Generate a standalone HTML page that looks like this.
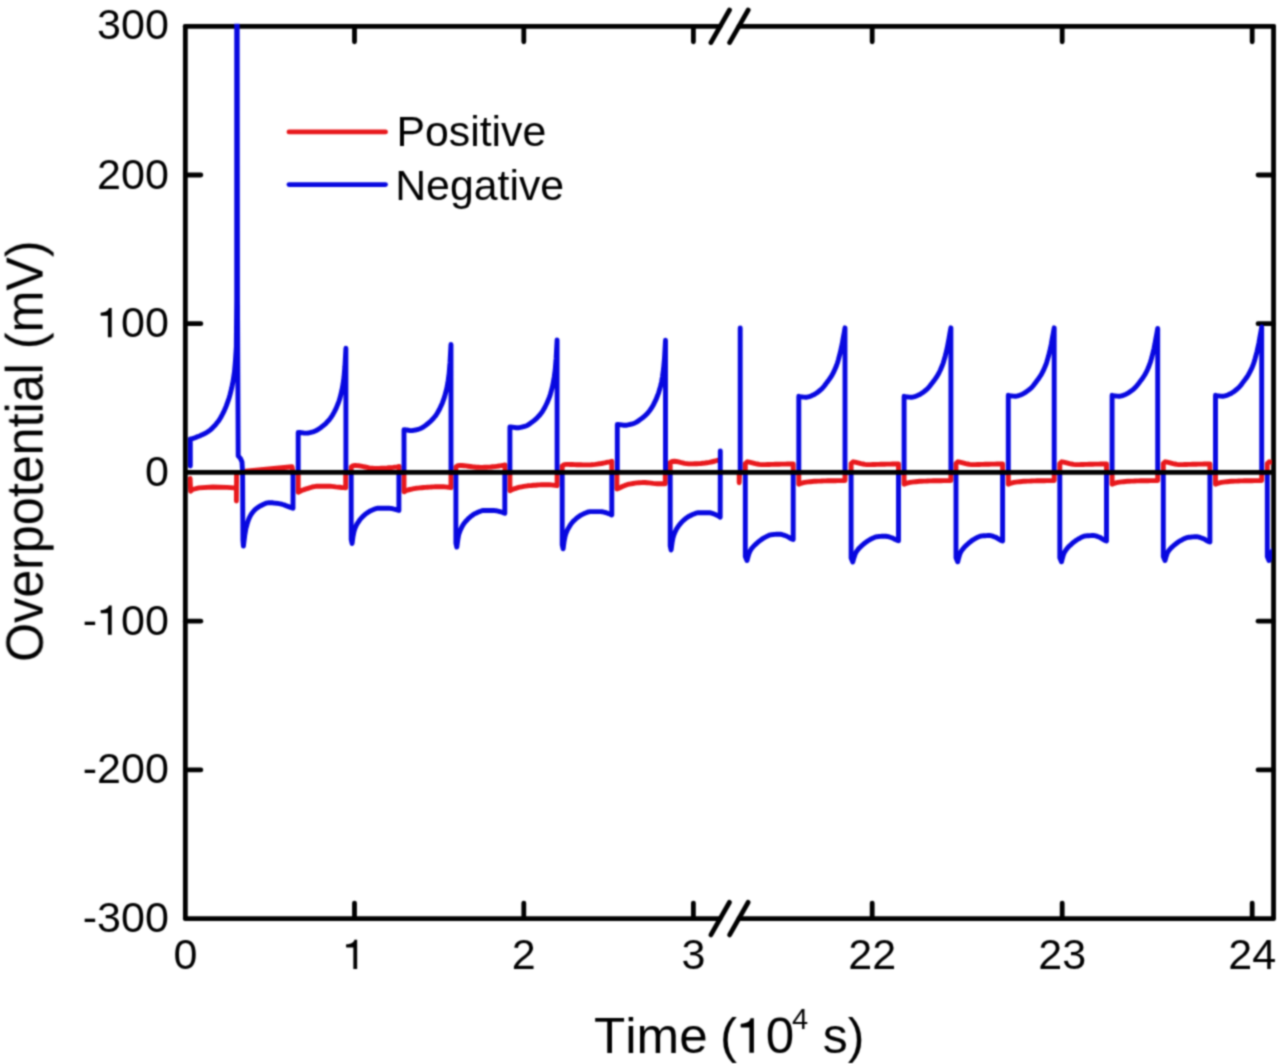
<!DOCTYPE html>
<html><head><meta charset="utf-8"><style>
html,body{margin:0;padding:0;background:#fff;width:1280px;height:1064px;overflow:hidden}
svg{display:block;font-family:"Liberation Sans",sans-serif}
text{stroke:#000;stroke-width:0px}
path.one{stroke:#000;stroke-width:0px;vector-effect:non-scaling-stroke}
</style></head><body>
<svg width="1280" height="1064" viewBox="0 0 1280 1064">
<defs><filter id="bl" filterUnits="userSpaceOnUse" x="0" y="0" width="1280" height="1064" color-interpolation-filters="sRGB"><feConvolveMatrix order="5" kernelMatrix="0.00048 0.00501 0.01095 0.00501 0.00048 0.00501 0.05222 0.11405 0.05222 0.00501 0.01095 0.11405 0.24912 0.11405 0.01095 0.00501 0.05222 0.11405 0.05222 0.00501 0.00048 0.00501 0.01095 0.00501 0.00048" divisor="1" edgeMode="none"/></filter><clipPath id="c"><rect x="187.7" y="23.8" width="1084.3" height="892.5"/></clipPath></defs>
<g filter="url(#bl)">
<g stroke="#000" stroke-width="4.8" stroke-linecap="round" fill="none"><line x1="185.35" y1="26.3" x2="185.35" y2="918.6"/><line x1="1273.55" y1="26.3" x2="1273.55" y2="918.6"/><line x1="185.35" y1="26.3" x2="720.2" y2="26.3"/><line x1="738.9" y1="26.3" x2="1273.55" y2="26.3"/><line x1="710.9" y1="42.6" x2="729.5" y2="10.0" stroke-linecap="round"/><line x1="729.6" y1="42.6" x2="748.2" y2="10.0" stroke-linecap="round"/><line x1="185.35" y1="918.6" x2="720.2" y2="918.6"/><line x1="738.9" y1="918.6" x2="1273.55" y2="918.6"/><line x1="710.9" y1="934.9" x2="729.5" y2="902.3000000000001" stroke-linecap="round"/><line x1="729.6" y1="934.9" x2="748.2" y2="902.3000000000001" stroke-linecap="round"/><line x1="185.35" y1="175.0" x2="200.85" y2="175.0"/><line x1="1258.05" y1="175.0" x2="1273.55" y2="175.0"/><line x1="185.35" y1="323.7" x2="200.85" y2="323.7"/><line x1="1258.05" y1="323.7" x2="1273.55" y2="323.7"/><line x1="185.35" y1="621.2" x2="200.85" y2="621.2"/><line x1="1258.05" y1="621.2" x2="1273.55" y2="621.2"/><line x1="185.35" y1="769.9" x2="200.85" y2="769.9"/><line x1="1258.05" y1="769.9" x2="1273.55" y2="769.9"/><line x1="354.5" y1="26.3" x2="354.5" y2="41.8"/><line x1="354.5" y1="918.6" x2="354.5" y2="903.1"/><line x1="523.8" y1="26.3" x2="523.8" y2="41.8"/><line x1="523.8" y1="918.6" x2="523.8" y2="903.1"/><line x1="693.4" y1="26.3" x2="693.4" y2="41.8"/><line x1="693.4" y1="918.6" x2="693.4" y2="903.1"/><line x1="872.2" y1="26.3" x2="872.2" y2="41.8"/><line x1="872.2" y1="918.6" x2="872.2" y2="903.1"/><line x1="1062.2" y1="26.3" x2="1062.2" y2="41.8"/><line x1="1062.2" y1="918.6" x2="1062.2" y2="903.1"/><line x1="1252.2" y1="26.3" x2="1252.2" y2="41.8"/><line x1="1252.2" y1="918.6" x2="1252.2" y2="903.1"/></g>
<g clip-path="url(#c)" fill="none" stroke-width="4.9" stroke-linejoin="round" stroke-linecap="round">
<polyline stroke="#e8181c" stroke-width="4.9" points="190.1,478.5 190.6,491.2 192.5,489.5 198.8,487.9 212.9,487.0 227.0,487.4 234.0,487.9 236.4,487.9 236.4,501.0 236.6,472.4 242.6,472.4 245.5,471.2 261.0,469.8 276.5,468.3 292.0,466.8 293.0,472.4 298.2,472.4 298.2,492.2 300.2,491.2 302.2,490.3 304.1,489.6 306.1,488.9 308.1,488.3 310.1,487.7 312.1,487.0 314.0,486.6 316.0,486.3 318.0,486.2 320.0,486.2 321.9,486.2 323.9,486.2 325.9,486.2 327.9,486.2 329.9,486.2 331.8,486.4 333.8,486.6 335.8,486.9 337.8,487.1 339.8,487.3 341.7,487.5 343.7,487.6 345.7,487.8 345.7,472.4 351.2,472.4 351.2,467.0 353.2,465.6 355.2,465.4 357.2,465.6 359.2,465.8 361.2,466.2 363.2,466.6 365.2,467.0 367.2,467.4 369.2,467.8 371.2,468.1 373.2,468.3 375.2,468.4 377.2,468.4 379.2,468.4 381.2,468.3 383.2,468.2 385.2,468.1 387.2,468.0 389.2,467.8 391.2,467.6 393.2,467.4 395.2,467.1 397.2,466.8 399.2,466.4 399.2,472.4 404.0,472.4 404.0,491.8 406.0,490.6 407.9,490.0 409.9,489.5 411.8,489.1 413.8,488.7 415.8,488.3 417.7,488.1 419.7,487.9 421.6,487.7 423.6,487.5 425.5,487.4 427.5,487.2 429.5,487.1 431.4,487.0 433.4,486.9 435.3,486.8 437.3,486.8 439.2,486.7 441.2,486.7 443.2,486.7 445.1,486.9 447.1,487.1 449.0,487.4 451.0,487.7 451.0,472.4 455.9,472.4 455.9,467.0 457.9,465.6 460.0,465.4 462.0,465.5 464.1,465.7 466.1,465.9 468.2,466.2 470.2,466.5 472.3,466.8 474.3,467.0 476.4,467.2 478.4,467.3 480.4,467.4 482.5,467.4 484.5,467.3 486.6,467.2 488.6,467.1 490.7,467.0 492.7,466.8 494.8,466.6 496.8,466.3 498.9,466.0 500.9,465.7 503.0,465.3 505.0,464.9 505.0,472.4 509.9,472.4 509.9,490.8 511.9,489.7 513.8,488.9 515.8,488.3 517.8,487.7 519.7,487.2 521.7,486.8 523.7,486.4 525.6,486.1 527.6,485.8 529.6,485.6 531.5,485.5 533.5,485.3 535.5,485.2 537.4,485.0 539.4,484.9 541.4,484.8 543.3,484.8 545.3,484.7 547.3,484.7 549.2,484.7 551.2,484.9 553.2,485.1 555.1,485.4 557.1,485.7 557.1,472.4 562.2,472.4 562.2,466.0 564.3,464.6 566.3,464.4 568.4,464.4 570.5,464.5 572.5,464.5 574.6,464.6 576.7,464.7 578.7,464.7 580.8,464.8 582.9,464.9 584.9,464.9 587.0,464.9 589.1,464.9 591.1,464.8 593.2,464.6 595.3,464.4 597.3,464.1 599.4,463.8 601.5,463.5 603.5,463.1 605.6,462.7 607.7,462.2 609.7,461.8 611.8,461.3 611.8,472.4 616.9,472.4 616.9,489.0 618.9,488.2 620.9,487.3 622.9,486.3 625.0,485.4 627.0,484.7 629.0,484.2 631.0,483.8 633.0,483.5 635.0,483.2 637.1,482.9 639.1,482.7 641.1,482.6 643.1,482.5 645.1,482.5 647.1,482.7 649.2,482.9 651.2,483.1 653.2,483.4 655.2,483.6 657.2,483.7 659.2,483.7 661.3,483.7 663.3,483.7 665.3,483.7 665.3,472.4 670.2,472.4 670.2,462.5 672.2,461.5 674.3,461.3 676.4,461.5 678.4,461.9 680.5,462.4 682.5,462.8 684.6,463.3 686.6,463.6 688.6,463.9 690.7,463.9 692.8,463.9 694.8,463.8 696.9,463.7 698.9,463.6 701.0,463.5 703.0,463.2 705.0,463.0 707.1,462.7 709.1,462.4 711.2,462.0 713.2,461.5 715.3,461.0 717.4,460.4 719.4,459.8"/>
<polyline stroke="#e8181c" stroke-width="4.9" points="739.2,472.4 739.2,482.7 739.6,472.4 745.3,472.4 745.3,472.4 745.3,463.5 747.3,461.8 749.3,462.2 751.3,462.6 753.3,463.1 755.3,463.6 757.3,464.0 759.3,464.4 761.3,464.6 763.3,464.6 765.3,464.6 767.3,464.5 769.2,464.5 771.2,464.4 773.2,464.4 775.2,464.3 777.2,464.2 779.2,464.2 781.2,464.1 783.2,464.1 785.2,464.1 787.2,464.0 789.2,464.0 791.2,463.9 793.2,463.9 793.2,472.4 798.8,472.4 798.8,484.2 800.7,483.5 802.6,482.9 804.6,482.4 806.5,482.1 808.4,481.9 810.3,481.7 812.3,481.5 814.2,481.3 816.1,481.2 818.0,481.1 820.0,481.1 821.9,481.0 823.8,480.9 825.8,480.9 827.7,480.8 829.6,480.8 831.5,480.7 833.5,480.7 835.4,480.7 837.3,480.6 839.2,480.6 841.1,480.6 843.1,480.6 845.0,480.6 845.0,472.4 851.1,472.4 851.1,463.5 853.1,461.8 855.1,462.2 857.0,462.6 859.0,463.1 861.0,463.6 863.0,464.0 864.9,464.4 866.9,464.6 868.9,464.6 870.9,464.6 872.8,464.5 874.8,464.5 876.8,464.4 878.8,464.4 880.7,464.3 882.7,464.2 884.7,464.2 886.6,464.1 888.6,464.1 890.6,464.1 892.6,464.0 894.5,464.0 896.5,463.9 898.5,463.9 898.5,472.4 904.1,472.4 904.1,484.2 906.1,483.5 908.0,482.9 910.0,482.4 911.9,482.1 913.9,481.9 915.8,481.7 917.8,481.5 919.7,481.3 921.6,481.2 923.6,481.1 925.5,481.1 927.5,481.0 929.5,480.9 931.4,480.9 933.4,480.8 935.3,480.8 937.2,480.7 939.2,480.7 941.1,480.7 943.1,480.6 945.0,480.6 947.0,480.6 948.9,480.6 950.9,480.6 950.9,472.4 956.0,472.4 956.0,463.5 957.9,461.8 959.9,462.2 961.8,462.6 963.8,463.1 965.7,463.6 967.6,464.0 969.6,464.4 971.5,464.6 973.5,464.6 975.4,464.6 977.4,464.5 979.3,464.5 981.2,464.4 983.2,464.4 985.1,464.3 987.1,464.2 989.0,464.2 991.0,464.1 992.9,464.1 994.8,464.1 996.8,464.0 998.7,464.0 1000.7,463.9 1002.6,463.9 1002.6,472.4 1008.3,472.4 1008.3,484.2 1010.2,483.5 1012.1,482.9 1014.0,482.4 1015.9,482.1 1017.9,481.9 1019.8,481.7 1021.7,481.5 1023.6,481.3 1025.5,481.2 1027.4,481.1 1029.3,481.1 1031.2,481.0 1033.2,480.9 1035.1,480.9 1037.0,480.8 1038.9,480.8 1040.8,480.7 1042.7,480.7 1044.6,480.7 1046.5,480.6 1048.5,480.6 1050.4,480.6 1052.3,480.6 1054.2,480.6 1054.2,472.4 1059.8,472.4 1059.8,463.5 1061.7,461.8 1063.7,462.2 1065.6,462.6 1067.6,463.1 1069.5,463.6 1071.5,464.0 1073.4,464.4 1075.4,464.6 1077.3,464.6 1079.3,464.6 1081.2,464.5 1083.2,464.5 1085.1,464.4 1087.0,464.4 1089.0,464.3 1090.9,464.2 1092.9,464.2 1094.8,464.1 1096.8,464.1 1098.7,464.1 1100.7,464.0 1102.6,464.0 1104.6,463.9 1106.5,463.9 1106.5,472.4 1112.1,472.4 1112.1,484.2 1114.0,483.5 1115.9,482.9 1117.8,482.4 1119.7,482.1 1121.6,481.9 1123.5,481.7 1125.4,481.5 1127.3,481.3 1129.2,481.2 1131.1,481.1 1133.0,481.1 1134.9,481.0 1136.8,480.9 1138.7,480.9 1140.6,480.8 1142.5,480.8 1144.4,480.7 1146.3,480.7 1148.2,480.7 1150.1,480.6 1152.0,480.6 1153.9,480.6 1155.8,480.6 1157.7,480.6 1157.7,472.4 1163.3,472.4 1163.3,463.5 1165.2,461.8 1167.2,462.2 1169.1,462.6 1171.1,463.1 1173.0,463.6 1175.0,464.0 1176.9,464.4 1178.8,464.6 1180.8,464.6 1182.7,464.6 1184.7,464.5 1186.6,464.5 1188.5,464.4 1190.5,464.4 1192.4,464.3 1194.4,464.2 1196.3,464.2 1198.2,464.1 1200.2,464.1 1202.1,464.1 1204.1,464.0 1206.0,464.0 1208.0,463.9 1209.9,463.9 1209.9,472.4 1215.5,472.4 1215.5,484.2 1217.4,483.5 1219.3,482.9 1221.3,482.4 1223.2,482.1 1225.1,481.9 1227.0,481.7 1229.0,481.5 1230.9,481.3 1232.8,481.2 1234.8,481.1 1236.7,481.1 1238.6,481.0 1240.5,480.9 1242.5,480.9 1244.4,480.8 1246.3,480.8 1248.2,480.7 1250.2,480.7 1252.1,480.7 1254.0,480.6 1255.9,480.6 1257.9,480.6 1259.8,480.6 1261.7,480.6 1261.7,472.4 1267.3,472.4 1267.3,463.5 1269.2,461.8 1271.2,462.2 1273.1,462.6 1275.1,463.1 1277.0,463.6 1279.0,464.0 1280.9,464.4 1282.9,464.6 1284.8,464.6 1286.8,464.6 1288.7,464.5 1290.7,464.5 1292.6,464.4 1294.5,464.4 1296.5,464.3 1298.4,464.2 1300.4,464.2 1302.3,464.1 1304.3,464.1 1306.2,464.1 1308.2,464.0 1310.1,464.0 1312.1,463.9 1314.0,463.9 1314.0,472.4"/>
<polyline stroke="#0808e0" points="190.3,466.0 190.3,439.0 191.3,439.0 192.2,438.7 193.1,438.4 194.1,438.1 195.0,437.7 195.9,437.4 196.8,437.0 197.7,436.6 198.6,436.3 199.6,435.9 200.5,435.5 201.4,435.1 202.3,434.7 203.2,434.3 204.2,433.8 205.1,433.3 206.0,432.8 206.9,432.3 207.8,431.7 208.7,431.1 209.7,430.4 210.6,429.7 211.5,428.9 212.4,428.0 213.3,427.1 214.3,426.1 215.2,425.1 216.1,424.0 217.0,422.8 217.9,421.7 218.9,420.4 219.8,419.0 220.7,417.5 221.6,415.8 222.5,414.1 223.4,412.3 224.4,410.3 225.3,408.3 226.2,406.1 227.1,403.7 228.0,401.1 229.0,398.2 229.9,395.1 230.8,391.6 231.7,387.9 232.6,383.6 233.5,378.3 234.5,371.7 235.4,361.3 236.3,347.0 236.7,300.0 236.7,150.0 236.7,10.0 237.2,10.0 237.5,300.0 238.2,455.9 240.5,458.5 242.0,462.0 242.6,472.4 242.9,540.0 243.4,546.1 244.7,535.6 245.9,528.7 247.2,523.8 248.5,519.8 249.8,516.8 251.0,514.6 252.3,512.8 253.6,511.2 254.8,509.9 256.1,508.7 257.4,507.8 258.7,506.9 259.9,506.2 261.2,505.5 262.5,504.8 263.7,504.2 265.0,503.6 266.3,503.2 267.6,502.9 268.8,502.7 270.1,502.7 271.4,502.8 272.7,502.8 273.9,503.0 275.2,503.1 276.5,503.3 277.7,503.4 279.0,503.6 280.3,503.8 281.6,504.1 282.8,504.5 284.1,504.9 285.4,505.4 286.6,505.9 287.9,506.4 289.2,506.9 290.5,507.4 291.7,507.8 293.0,508.2 293.0,472.4 298.2,472.4 298.2,432.4 299.2,432.4 300.1,432.5 301.1,432.6 302.1,432.8 303.1,432.9 304.0,433.1 305.0,433.1 306.0,433.1 307.0,433.1 307.9,433.0 308.9,432.8 309.9,432.6 310.9,432.4 311.8,432.1 312.8,431.9 313.8,431.6 314.7,431.2 315.7,430.8 316.7,430.3 317.7,429.7 318.6,429.1 319.6,428.4 320.6,427.7 321.6,427.0 322.5,426.2 323.5,425.5 324.5,424.6 325.5,423.8 326.4,422.8 327.4,421.8 328.4,420.8 329.4,419.6 330.3,418.4 331.3,417.0 332.3,415.5 333.2,413.9 334.2,412.1 335.2,410.2 336.2,408.1 337.1,405.9 338.1,403.5 339.1,400.7 340.1,397.5 341.0,393.9 342.0,389.6 343.0,384.3 344.0,377.2 344.9,366.3 345.9,348.3 345.9,472.4 351.2,472.4 351.2,539.5 352.1,543.5 353.0,536.5 354.0,531.6 354.9,528.6 355.9,526.3 356.8,524.4 357.8,522.8 358.8,521.3 359.7,520.0 360.7,518.8 361.6,517.7 362.6,516.7 363.5,515.8 364.5,515.0 365.4,514.2 366.4,513.4 367.4,512.7 368.3,512.1 369.3,511.5 370.2,511.0 371.2,510.6 372.1,510.1 373.1,509.7 374.0,509.3 375.0,508.9 376.0,508.6 376.9,508.4 377.9,508.2 378.8,508.2 379.8,508.2 380.7,508.2 381.7,508.2 382.6,508.2 383.6,508.2 384.6,508.2 385.5,508.2 386.5,508.2 387.4,508.2 388.4,508.2 389.3,508.3 390.3,508.4 391.3,508.5 392.2,508.7 393.2,508.9 394.1,509.1 395.1,509.3 396.0,509.5 397.0,509.8 397.9,510.2 398.9,510.5 398.9,472.4 404.0,472.4 404.0,429.8 405.0,429.8 405.9,429.9 406.9,430.0 407.8,430.2 408.8,430.3 409.8,430.5 410.7,430.6 411.7,430.6 412.6,430.5 413.6,430.4 414.6,430.2 415.5,430.0 416.5,429.8 417.4,429.5 418.4,429.3 419.3,429.0 420.3,428.6 421.3,428.2 422.2,427.7 423.2,427.1 424.1,426.4 425.1,425.7 426.1,425.0 427.0,424.3 428.0,423.5 428.9,422.8 429.9,421.9 430.9,421.0 431.8,420.1 432.8,419.1 433.7,418.0 434.7,416.8 435.7,415.6 436.6,414.2 437.6,412.7 438.5,411.0 439.5,409.2 440.4,407.2 441.4,405.1 442.4,402.9 443.3,400.4 444.3,397.6 445.2,394.4 446.2,390.7 447.2,386.4 448.1,380.9 449.1,373.7 450.0,362.7 451.0,344.4 451.0,472.4 455.9,472.4 455.9,543.1 456.8,547.1 457.8,539.9 458.7,534.7 459.7,531.7 460.7,529.3 461.7,527.3 462.7,525.6 463.6,524.1 464.6,522.7 465.6,521.5 466.6,520.4 467.6,519.4 468.5,518.4 469.5,517.6 470.5,516.7 471.5,515.9 472.5,515.2 473.4,514.5 474.4,513.9 475.4,513.4 476.4,513.0 477.4,512.5 478.3,512.1 479.3,511.6 480.3,511.3 481.3,510.9 482.3,510.7 483.2,510.5 484.2,510.5 485.2,510.5 486.2,510.5 487.2,510.5 488.1,510.5 489.1,510.5 490.1,510.5 491.1,510.5 492.1,510.5 493.0,510.5 494.0,510.5 495.0,510.6 496.0,510.7 497.0,510.9 497.9,511.1 498.9,511.3 499.9,511.6 500.9,511.9 501.9,512.1 502.8,512.5 503.8,512.9 504.8,513.3 504.8,472.4 509.9,472.4 509.9,427.0 510.9,427.0 511.8,427.1 512.8,427.2 513.8,427.4 514.7,427.5 515.7,427.7 516.6,427.8 517.6,427.8 518.6,427.7 519.5,427.6 520.5,427.4 521.5,427.2 522.4,427.0 523.4,426.7 524.3,426.5 525.3,426.2 526.3,425.8 527.2,425.4 528.2,424.8 529.2,424.2 530.1,423.5 531.1,422.8 532.1,422.1 533.0,421.4 534.0,420.6 534.9,419.8 535.9,419.0 536.9,418.1 537.8,417.1 538.8,416.1 539.8,415.0 540.7,413.8 541.7,412.5 542.7,411.1 543.6,409.6 544.6,407.8 545.5,406.0 546.5,404.0 547.5,401.9 548.4,399.6 549.4,397.1 550.4,394.2 551.3,390.9 552.3,387.2 553.2,382.7 554.2,377.2 555.2,369.9 556.1,358.7 557.1,340.0 557.1,472.4 562.2,472.4 562.2,544.8 563.1,548.8 564.1,541.4 565.1,536.2 566.1,533.1 567.1,530.7 568.1,528.7 569.1,527.0 570.1,525.4 571.0,524.0 572.0,522.8 573.0,521.6 574.0,520.6 575.0,519.7 576.0,518.8 577.0,517.9 578.0,517.1 579.0,516.4 580.0,515.7 581.0,515.1 582.0,514.6 583.0,514.1 584.0,513.6 585.0,513.2 586.0,512.8 586.9,512.4 587.9,512.0 588.9,511.8 589.9,511.6 590.9,511.6 591.9,511.6 592.9,511.6 593.9,511.6 594.9,511.6 595.9,511.6 596.9,511.6 597.9,511.6 598.9,511.6 599.9,511.6 600.9,511.6 601.9,511.7 602.9,511.9 603.8,512.1 604.8,512.3 605.8,512.6 606.8,512.9 607.8,513.3 608.8,513.6 609.8,514.0 610.8,514.5 611.8,515.0 611.8,472.4 617.3,472.4 617.3,424.5 618.3,424.5 619.3,424.6 620.3,424.7 621.2,424.9 622.2,425.0 623.2,425.2 624.2,425.2 625.2,425.2 626.2,425.2 627.1,425.1 628.1,424.9 629.1,424.7 630.1,424.5 631.1,424.2 632.1,424.0 633.0,423.7 634.0,423.3 635.0,422.9 636.0,422.4 637.0,421.8 638.0,421.2 638.9,420.5 639.9,419.8 640.9,419.1 641.9,418.3 642.9,417.6 643.9,416.7 644.8,415.9 645.8,414.9 646.8,413.9 647.8,412.9 648.8,411.7 649.8,410.5 650.7,409.1 651.7,407.6 652.7,406.0 653.7,404.2 654.7,402.2 655.7,400.2 656.6,398.0 657.6,395.5 658.6,392.8 659.6,389.6 660.6,385.9 661.6,381.7 662.5,376.3 663.5,369.2 664.5,358.3 665.5,340.3 665.5,472.4 670.2,472.4 670.2,546.0 671.1,550.0 672.1,542.6 673.1,537.4 674.1,534.3 675.1,531.8 676.1,529.8 677.1,528.1 678.1,526.6 679.1,525.2 680.1,523.9 681.1,522.8 682.1,521.7 683.1,520.8 684.1,519.9 685.1,519.0 686.1,518.2 687.1,517.5 688.1,516.8 689.1,516.2 690.1,515.7 691.1,515.2 692.1,514.7 693.1,514.3 694.1,513.9 695.1,513.5 696.2,513.1 697.2,512.9 698.2,512.7 699.2,512.7 700.2,512.7 701.2,512.7 702.2,512.7 703.2,512.7 704.2,512.7 705.2,512.7 706.2,512.7 707.2,512.7 708.2,512.7 709.2,512.7 710.2,512.8 711.2,513.0 712.2,513.3 713.2,513.7 714.2,514.1 715.2,514.5 716.2,514.9 717.2,515.3 718.2,515.9 719.2,516.5 720.2,517.2 720.3,451.0"/>
<polyline stroke="#0808e0" points="740.2,327.9 740.2,472.4 745.3,472.4 745.3,556.5 747.0,560.5 748.0,556.9 748.9,553.8 749.9,551.4 750.8,549.8 751.7,548.4 752.7,547.3 753.6,546.2 754.6,545.3 755.5,544.4 756.4,543.6 757.4,542.7 758.3,541.9 759.3,541.1 760.2,540.4 761.2,539.7 762.1,539.0 763.0,538.5 764.0,537.9 764.9,537.4 765.9,536.9 766.8,536.4 767.8,535.9 768.7,535.5 769.6,535.1 770.6,534.9 771.5,534.7 772.5,534.6 773.4,534.5 774.4,534.4 775.3,534.4 776.2,534.3 777.2,534.3 778.1,534.2 779.1,534.2 780.0,534.2 780.9,534.3 781.9,534.5 782.8,534.8 783.8,535.1 784.7,535.4 785.7,535.8 786.6,536.1 787.5,536.6 788.5,537.1 789.4,537.7 790.4,538.3 791.3,538.8 792.3,539.2 793.2,539.5 793.2,472.4 798.8,472.4 798.8,396.3 799.7,396.6 800.7,396.8 801.6,396.9 802.6,397.0 803.5,397.1 804.5,397.1 805.4,397.2 806.3,397.2 807.3,397.1 808.2,396.9 809.2,396.7 810.1,396.3 811.1,395.9 812.0,395.5 812.9,395.1 813.9,394.7 814.8,394.1 815.8,393.5 816.7,392.9 817.7,392.2 818.6,391.5 819.5,390.8 820.5,390.0 821.4,389.2 822.4,388.2 823.3,387.2 824.3,386.0 825.2,384.8 826.1,383.5 827.1,382.3 828.0,381.0 829.0,379.8 829.9,378.4 830.9,377.0 831.8,375.5 832.7,373.8 833.7,372.0 834.6,370.0 835.6,367.8 836.5,365.5 837.5,362.7 838.4,359.6 839.3,356.2 840.3,352.5 841.2,348.4 842.2,343.8 843.1,338.4 844.1,333.1 845.0,327.8 845.0,472.4 851.1,472.4 851.1,558.0 852.8,562.0 853.7,558.5 854.7,555.4 855.6,553.1 856.5,551.5 857.5,550.2 858.4,549.0 859.3,548.0 860.3,547.1 861.2,546.2 862.1,545.4 863.1,544.5 864.0,543.7 864.9,543.0 865.9,542.3 866.8,541.6 867.7,541.0 868.7,540.4 869.6,539.9 870.5,539.3 871.5,538.8 872.4,538.3 873.3,537.9 874.3,537.5 875.2,537.1 876.1,536.9 877.1,536.7 878.0,536.6 878.9,536.5 879.8,536.4 880.8,536.4 881.7,536.3 882.6,536.3 883.6,536.2 884.5,536.2 885.4,536.2 886.4,536.3 887.3,536.5 888.2,536.7 889.2,536.9 890.1,537.2 891.0,537.5 892.0,537.8 892.9,538.2 893.8,538.7 894.8,539.2 895.7,539.7 896.6,540.1 897.6,540.5 898.5,540.7 898.5,472.4 904.1,472.4 904.1,396.3 905.1,396.6 906.0,396.8 907.0,396.9 907.9,397.0 908.9,397.1 909.8,397.1 910.8,397.2 911.7,397.2 912.7,397.1 913.7,396.9 914.6,396.7 915.6,396.3 916.5,395.9 917.5,395.5 918.4,395.1 919.4,394.7 920.3,394.1 921.3,393.5 922.2,392.9 923.2,392.2 924.2,391.5 925.1,390.8 926.1,390.0 927.0,389.2 928.0,388.2 928.9,387.2 929.9,386.0 930.8,384.8 931.8,383.5 932.8,382.3 933.7,381.0 934.7,379.8 935.6,378.4 936.6,377.0 937.5,375.5 938.5,373.8 939.4,372.0 940.4,370.0 941.3,367.8 942.3,365.5 943.3,362.7 944.2,359.6 945.2,356.2 946.1,352.5 947.1,348.4 948.0,343.8 949.0,338.4 949.9,333.1 950.9,327.8 950.9,472.4 956.0,472.4 956.0,557.8 957.7,561.8 958.6,558.2 959.5,555.1 960.4,552.7 961.3,551.1 962.3,549.7 963.2,548.6 964.1,547.5 965.0,546.6 965.9,545.7 966.8,544.9 967.8,544.0 968.7,543.2 969.6,542.4 970.5,541.7 971.4,541.0 972.3,540.3 973.3,539.8 974.2,539.2 975.1,538.7 976.0,538.2 976.9,537.7 977.8,537.2 978.8,536.8 979.7,536.4 980.6,536.2 981.5,536.0 982.4,535.9 983.3,535.8 984.3,535.7 985.2,535.7 986.1,535.6 987.0,535.6 987.9,535.5 988.8,535.5 989.8,535.5 990.7,535.6 991.6,535.8 992.5,536.1 993.4,536.4 994.3,536.8 995.3,537.1 996.2,537.5 997.1,538.0 998.0,538.6 998.9,539.2 999.8,539.8 1000.8,540.3 1001.7,540.7 1002.6,541.0 1002.6,472.4 1008.3,472.4 1008.3,395.3 1009.2,395.6 1010.2,395.8 1011.1,395.9 1012.0,396.0 1013.0,396.1 1013.9,396.1 1014.9,396.2 1015.8,396.2 1016.7,396.1 1017.7,395.9 1018.6,395.6 1019.5,395.3 1020.5,394.9 1021.4,394.6 1022.4,394.2 1023.3,393.7 1024.2,393.2 1025.2,392.6 1026.1,391.9 1027.0,391.3 1028.0,390.6 1028.9,389.9 1029.8,389.1 1030.8,388.3 1031.7,387.4 1032.7,386.3 1033.6,385.2 1034.5,384.0 1035.5,382.7 1036.4,381.5 1037.3,380.3 1038.3,379.0 1039.2,377.7 1040.1,376.3 1041.1,374.8 1042.0,373.1 1043.0,371.3 1043.9,369.4 1044.8,367.3 1045.8,364.9 1046.7,362.2 1047.6,359.1 1048.6,355.8 1049.5,352.1 1050.5,348.1 1051.4,343.5 1052.3,338.2 1053.3,333.0 1054.2,327.8 1054.2,472.4 1059.8,472.4 1059.8,557.8 1061.5,561.8 1062.4,558.2 1063.3,555.1 1064.2,552.7 1065.2,551.1 1066.1,549.7 1067.0,548.6 1067.9,547.5 1068.8,546.6 1069.7,545.7 1070.7,544.9 1071.6,544.0 1072.5,543.2 1073.4,542.4 1074.3,541.7 1075.3,541.0 1076.2,540.3 1077.1,539.8 1078.0,539.2 1078.9,538.7 1079.9,538.2 1080.8,537.7 1081.7,537.2 1082.6,536.8 1083.5,536.4 1084.4,536.2 1085.4,536.0 1086.3,535.9 1087.2,535.8 1088.1,535.7 1089.0,535.7 1090.0,535.6 1090.9,535.6 1091.8,535.5 1092.7,535.5 1093.6,535.5 1094.6,535.6 1095.5,535.8 1096.4,536.1 1097.3,536.4 1098.2,536.8 1099.1,537.1 1100.1,537.5 1101.0,538.0 1101.9,538.6 1102.8,539.2 1103.7,539.8 1104.7,540.3 1105.6,540.7 1106.5,541.0 1106.5,472.4 1112.1,472.4 1112.1,395.3 1113.0,395.6 1114.0,395.8 1114.9,395.9 1115.8,396.0 1116.8,396.1 1117.7,396.1 1118.6,396.2 1119.5,396.2 1120.5,396.1 1121.4,395.9 1122.3,395.6 1123.3,395.3 1124.2,394.9 1125.1,394.6 1126.1,394.2 1127.0,393.7 1127.9,393.2 1128.9,392.6 1129.8,391.9 1130.7,391.3 1131.6,390.6 1132.6,389.9 1133.5,389.2 1134.4,388.3 1135.4,387.4 1136.3,386.4 1137.2,385.3 1138.2,384.1 1139.1,382.9 1140.0,381.6 1140.9,380.4 1141.9,379.2 1142.8,377.9 1143.7,376.5 1144.7,375.0 1145.6,373.3 1146.5,371.6 1147.5,369.6 1148.4,367.6 1149.3,365.2 1150.3,362.5 1151.2,359.5 1152.1,356.2 1153.0,352.6 1154.0,348.6 1154.9,344.1 1155.8,338.8 1156.8,333.6 1157.7,328.5 1157.7,472.4 1163.3,472.4 1163.3,556.5 1165.0,560.5 1165.9,557.3 1166.8,554.4 1167.7,552.3 1168.6,550.9 1169.6,549.6 1170.5,548.6 1171.4,547.6 1172.3,546.8 1173.2,546.0 1174.1,545.2 1175.1,544.5 1176.0,543.7 1176.9,543.0 1177.8,542.4 1178.7,541.7 1179.6,541.2 1180.6,540.6 1181.5,540.2 1182.4,539.7 1183.3,539.2 1184.2,538.7 1185.1,538.3 1186.1,537.9 1187.0,537.6 1187.9,537.4 1188.8,537.3 1189.7,537.2 1190.6,537.1 1191.6,537.0 1192.5,536.9 1193.4,536.9 1194.3,536.8 1195.2,536.8 1196.1,536.8 1197.1,536.8 1198.0,536.9 1198.9,537.1 1199.8,537.4 1200.7,537.7 1201.6,538.0 1202.6,538.4 1203.5,538.7 1204.4,539.1 1205.3,539.7 1206.2,540.3 1207.1,540.9 1208.1,541.4 1209.0,541.7 1209.9,542.0 1209.9,472.4 1215.5,472.4 1215.5,395.3 1216.4,395.6 1217.4,395.8 1218.3,395.9 1219.3,396.0 1220.2,396.1 1221.2,396.1 1222.1,396.2 1223.0,396.2 1224.0,396.1 1224.9,395.9 1225.9,395.7 1226.8,395.3 1227.8,394.9 1228.7,394.5 1229.6,394.1 1230.6,393.7 1231.5,393.1 1232.5,392.5 1233.4,391.9 1234.4,391.2 1235.3,390.5 1236.2,389.8 1237.2,389.0 1238.1,388.2 1239.1,387.3 1240.0,386.2 1241.0,385.1 1241.9,383.8 1242.8,382.6 1243.8,381.3 1244.7,380.1 1245.7,378.8 1246.6,377.5 1247.6,376.1 1248.5,374.5 1249.4,372.8 1250.4,371.0 1251.3,369.1 1252.3,366.9 1253.2,364.6 1254.2,361.8 1255.1,358.7 1256.0,355.3 1257.0,351.6 1257.9,347.5 1258.9,342.9 1259.8,337.6 1260.8,332.3 1261.7,327.0 1261.7,472.4 1267.3,472.4 1267.3,556.5 1269.0,560.5 1269.9,557.2 1270.8,554.2 1271.7,552.0 1272.7,550.5 1273.6,549.3 1274.5,548.2 1275.4,547.2 1276.3,546.3 1277.2,545.5 1278.2,544.7 1279.1,543.9 1280.0,543.2 1280.9,542.4 1281.8,541.7 1282.8,541.1 1283.7,540.5 1284.6,540.0 1285.5,539.5 1286.4,539.0 1287.4,538.5 1288.3,538.0 1289.2,537.6 1290.1,537.2 1291.0,536.9 1291.9,536.6 1292.9,536.5 1293.8,536.4 1294.7,536.3 1295.6,536.2 1296.5,536.1 1297.5,536.1 1298.4,536.0 1299.3,536.0 1300.2,536.0 1301.1,536.0 1302.1,536.1 1303.0,536.3 1303.9,536.5 1304.8,536.8 1305.7,537.2 1306.6,537.5 1307.6,537.8 1308.5,538.2 1309.4,538.8 1310.3,539.3 1311.2,539.9 1312.2,540.4 1313.1,540.8 1314.0,541.0 1314.0,472.4"/>
</g>
<line x1="185.35" y1="472.4" x2="1273.55" y2="472.4" stroke="#000" stroke-width="4.8"/>
<line x1="289" y1="131.9" x2="385.5" y2="131.9" stroke="#e8181c" stroke-width="4.9" stroke-linecap="round"/>
<line x1="289" y1="184.6" x2="385.5" y2="184.6" stroke="#0808e0" stroke-width="4.9" stroke-linecap="round"/>
<g font-family="Liberation Sans, sans-serif" font-size="42.5" fill="#000"><text transform="translate(168.9,39.3) scale(1.013,1)" text-anchor="end">300</text><text transform="translate(168.9,189.2) scale(1.013,1)" text-anchor="end">200</text><path class="one" d="M515 0L696 0L696 1409L565 1409C535 1290 430 1200 185 1190C160 1189 160 1036 185 1036L515 1036Z" transform="translate(97.07,337.20) scale(0.02102,-0.02075)"/><text transform="translate(168.9,337.2) scale(1.013,1)" text-anchor="end">00</text><text transform="translate(168.9,486.2) scale(1.013,1)" text-anchor="end">0</text><path class="one" d="M515 0L696 0L696 1409L565 1409C535 1290 430 1200 185 1190C160 1189 160 1036 185 1036L515 1036Z" transform="translate(97.07,634.80) scale(0.02102,-0.02075)"/><text transform="translate(82.73,634.8) scale(1.013,1)">-</text><text transform="translate(168.9,634.8) scale(1.013,1)" text-anchor="end">00</text><text transform="translate(168.9,782.7) scale(1.013,1)" text-anchor="end">-200</text><text transform="translate(168.9,932.0) scale(1.013,1)" text-anchor="end">-300</text><text transform="translate(185.35,969.0) scale(1.013,1)" text-anchor="middle">0</text><path class="one" d="M515 0L696 0L696 1409L565 1409C535 1290 430 1200 185 1190C160 1189 160 1036 185 1036L515 1036Z" transform="translate(342.53,969.00) scale(0.02102,-0.02075)"/><text transform="translate(523.8,969.0) scale(1.013,1)" text-anchor="middle">2</text><text transform="translate(693.4,969.0) scale(1.013,1)" text-anchor="middle">3</text><text transform="translate(872.2,969.0) scale(1.013,1)" text-anchor="middle">22</text><text transform="translate(1062.2,969.0) scale(1.013,1)" text-anchor="middle">23</text><text transform="translate(1252.2,969.0) scale(1.013,1)" text-anchor="middle">24</text></g>
<text font-family="Liberation Sans, sans-serif" font-size="42.8" transform="translate(396.4,146.3)">Positive</text>
<text font-family="Liberation Sans, sans-serif" font-size="42.8" transform="translate(395.2,199.6)">Negative</text>
<text font-family="Liberation Sans, sans-serif" font-size="50" style="font-kerning:none" transform="translate(593.95,1052.7) scale(1.023,1)">Time</text>
<text font-family="Liberation Sans, sans-serif" font-size="50" transform="translate(720.0,1052.7) scale(1.023,1)">(</text>
<path class="one" d="M515 0L696 0L696 1409L565 1409C535 1290 430 1200 185 1190C160 1189 160 1036 185 1036L515 1036Z" transform="translate(736.50,1052.70) scale(0.02498,-0.02441)"/>
<text font-family="Liberation Sans, sans-serif" font-size="50" transform="translate(765.7,1052.7) scale(1.023,1)">0</text>
<text font-family="Liberation Sans, sans-serif" font-size="29" transform="translate(792,1028.6)">4</text>
<text font-family="Liberation Sans, sans-serif" font-size="50" transform="translate(822.8,1052.7)">s)</text>
<text font-family="Liberation Sans, sans-serif" font-size="51" transform="translate(42.6,661.9) rotate(-90) scale(0.985,1)">Overpotential (mV)</text>
</g>
</svg>
</body></html>
